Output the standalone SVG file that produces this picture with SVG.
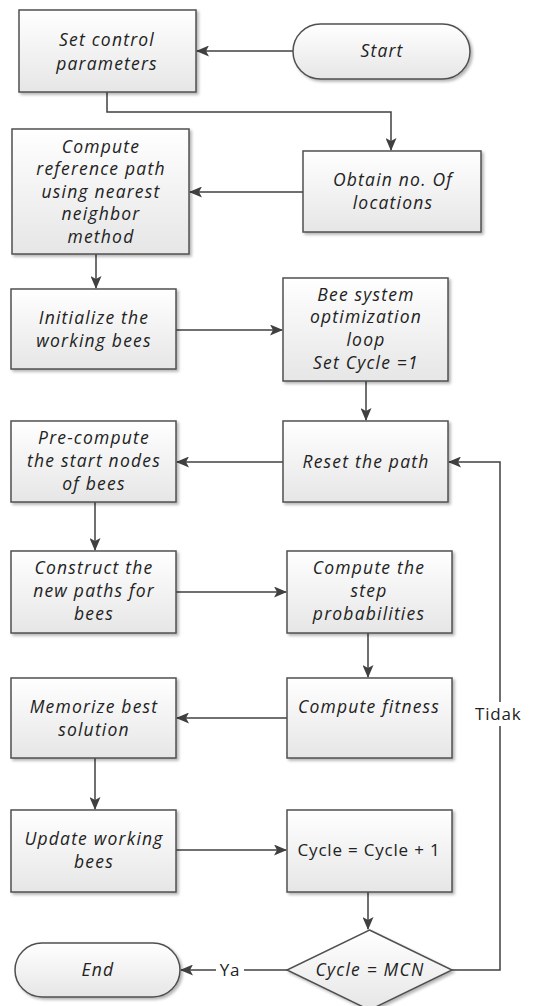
<svg xmlns="http://www.w3.org/2000/svg" width="560" height="1006" viewBox="0 0 560 1006">
<defs>
<linearGradient id="g" x1="0" y1="0" x2="0" y2="1">
<stop offset="0" stop-color="#ffffff"/>
<stop offset="1" stop-color="#e6e6e6"/>
</linearGradient>
<filter id="sh" x="-10%" y="-10%" width="125%" height="125%">
<feGaussianBlur in="SourceAlpha" stdDeviation="1.5"/>
<feOffset dx="2" dy="2" result="b"/>
<feComponentTransfer><feFuncA type="linear" slope="0.3"/></feComponentTransfer>
<feMerge><feMergeNode/><feMergeNode in="SourceGraphic"/></feMerge>
</filter>
<marker id="ah" markerWidth="13" markerHeight="11" refX="12" refY="5.5" orient="auto" markerUnits="userSpaceOnUse">
<path d="M0,0 L13,5.5 L0,11 L3,5.5 Z" fill="#404040"/>
</marker>
<style>
.b{fill:url(#g);stroke:#505050;stroke-width:1.5;filter:url(#sh)}
.t{font-family:"Open Sans","DejaVu Sans",sans-serif;font-style:italic;font-size:17.5px;letter-spacing:1.2px;fill:#222;text-anchor:middle}
.n{font-family:"Open Sans","DejaVu Sans",sans-serif;font-size:17px;letter-spacing:0.8px;fill:#222;text-anchor:middle}
.c{fill:none;stroke:#404040;stroke-width:1.5}
</style>
</defs>
<rect width="560" height="1006" fill="#fff"/>
<g id="connectors">
<path class="c" d="M293,51 H197" marker-end="url(#ah)"/>
<path class="c" d="M107,92 V112 H391 V150" marker-end="url(#ah)"/>
<path class="c" d="M303,192 H190" marker-end="url(#ah)"/>
<path class="c" d="M96,254 V288" marker-end="url(#ah)"/>
<path class="c" d="M176,330 H282" marker-end="url(#ah)"/>
<path class="c" d="M366,381 V420" marker-end="url(#ah)"/>
<path class="c" d="M283,462 H177" marker-end="url(#ah)"/>
<path class="c" d="M95,502 V550" marker-end="url(#ah)"/>
<path class="c" d="M176,592 H286" marker-end="url(#ah)"/>
<path class="c" d="M368,633 V677" marker-end="url(#ah)"/>
<path class="c" d="M287,718 H177" marker-end="url(#ah)"/>
<path class="c" d="M95,758 V809" marker-end="url(#ah)"/>
<path class="c" d="M176,850 H286" marker-end="url(#ah)"/>
<path class="c" d="M368,892 V929" marker-end="url(#ah)"/>
<path class="c" d="M287,970 H181" marker-end="url(#ah)"/>
<path class="c" d="M452,970 H500 V462 H449" marker-end="url(#ah)"/>
<rect x="216" y="960" width="28" height="20" fill="#fff"/>
<text class="n" x="230" y="976">Ya</text>
<rect x="474" y="702" width="86" height="24" fill="#fff"/>
<text class="n" x="475" y="720" style="text-anchor:start">Tidak</text>
</g>
<g id="start">
<rect class="b" x="293" y="24" width="177" height="55" rx="27.5"/>
<text class="t" x="382" y="57">Start</text>
</g>
<g id="set-control">
<rect class="b" x="19" y="10" width="177" height="82"/>
<text class="t" x="107" y="46">Set control</text>
<text class="t" x="107" y="70">parameters</text>
</g>
<g id="obtain">
<rect class="b" x="303" y="151" width="178" height="81"/>
<text class="t" x="393" y="186">Obtain no. Of</text>
<text class="t" x="393" y="209">locations</text>
</g>
<g id="compute-ref">
<rect class="b" x="12" y="129" width="177" height="125"/>
<text class="t" x="101" y="153">Compute</text>
<text class="t" x="101" y="175">reference path</text>
<text class="t" x="101" y="198">using nearest</text>
<text class="t" x="101" y="220">neighbor</text>
<text class="t" x="101" y="243">method</text>
</g>
<g id="initialize">
<rect class="b" x="11" y="289" width="165" height="80"/>
<text class="t" x="94" y="324">Initialize the</text>
<text class="t" x="94" y="347">working bees</text>
</g>
<g id="bee-system">
<rect class="b" x="283" y="278" width="165" height="103"/>
<text class="t" x="366" y="301">Bee system</text>
<text class="t" x="366" y="323">optimization</text>
<text class="t" x="366" y="346">loop</text>
<text class="t" x="366" y="369">Set Cycle =1</text>
</g>
<g id="reset">
<rect class="b" x="283" y="421" width="165" height="81"/>
<text class="t" x="366" y="468">Reset the path</text>
</g>
<g id="pre-compute">
<rect class="b" x="11" y="421" width="165" height="81"/>
<text class="t" x="94" y="444">Pre-compute</text>
<text class="t" x="94" y="467">the start nodes</text>
<text class="t" x="94" y="490">of bees</text>
</g>
<g id="construct">
<rect class="b" x="11" y="551" width="165" height="82"/>
<text class="t" x="94" y="574">Construct the</text>
<text class="t" x="94" y="597">new paths for</text>
<text class="t" x="94" y="620">bees</text>
</g>
<g id="compute-step">
<rect class="b" x="287" y="551" width="165" height="82"/>
<text class="t" x="369" y="574">Compute the</text>
<text class="t" x="369" y="597">step</text>
<text class="t" x="369" y="620">probabilities</text>
</g>
<g id="compute-fitness">
<rect class="b" x="287" y="678" width="165" height="80"/>
<text class="t" x="369" y="713">Compute fitness</text>
</g>
<g id="memorize">
<rect class="b" x="11" y="678" width="165" height="80"/>
<text class="t" x="94" y="713">Memorize best</text>
<text class="t" x="94" y="736">solution</text>
</g>
<g id="update">
<rect class="b" x="11" y="810" width="165" height="82"/>
<text class="t" x="94" y="845">Update working</text>
<text class="t" x="94" y="868">bees</text>
</g>
<g id="cycle-inc">
<rect class="b" x="287" y="810" width="165" height="82"/>
<text class="n" x="369" y="856">Cycle = Cycle + 1</text>
</g>
<g id="decision">
<path class="b" d="M369.5,930 L452,970 L369.5,1010 L287,970 Z"/>
<text class="t" x="370" y="976">Cycle = MCN</text>
</g>
<g id="end">
<rect class="b" x="15" y="943" width="165" height="54" rx="27"/>
<text class="t" x="98" y="976">End</text>
</g>
</svg>
